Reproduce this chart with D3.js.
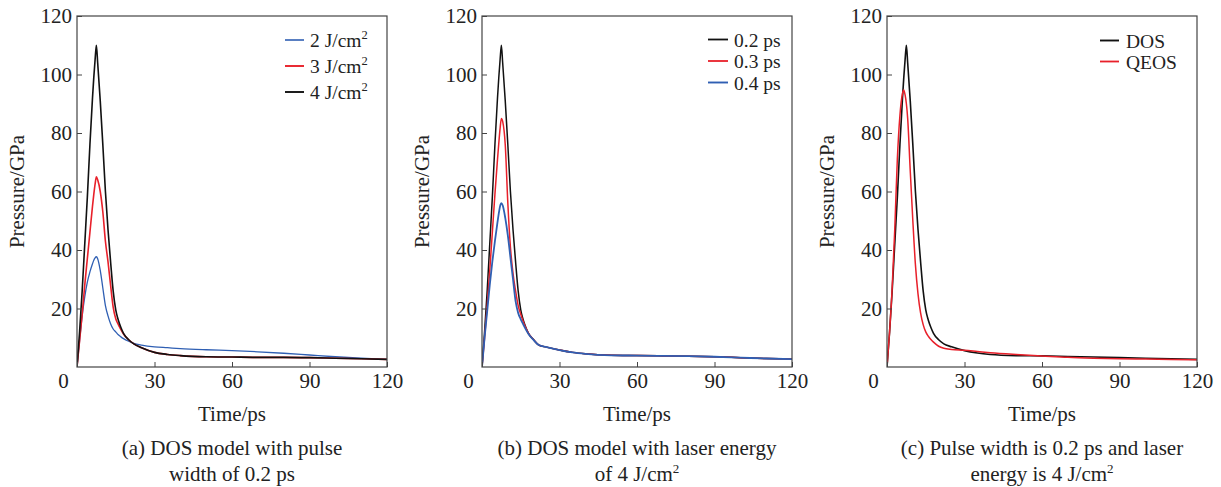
<!DOCTYPE html>
<html>
<head>
<meta charset="utf-8">
<script src="https://cdn.jsdelivr.net/npm/d3@7/dist/d3.min.js"></script>
<style>
  html, body { margin: 0; padding: 0; background: #fff; }
  svg text { font-family: "Liberation Serif", "Times New Roman", serif; fill: #222; }
</style>
</head>
<body>
<div id="chart"></div>
<script>
// ── Data ──
const time = [0, 1, 2, 3, 4, 5, 6, 6.5, 7, 7.5, 8, 9, 10, 11, 12, 13, 14, 15, 16, 17, 18,
  20, 22, 25, 30, 35, 40, 50, 60, 70, 80, 90, 100, 110, 120];

// (a) DOS model, pulse width 0.2 ps
const dosE2 = [0, 9, 17.5, 24, 29, 32.5, 35.3, 36.5, 37.3, 37.7, 37, 33, 27, 21, 17.5, 14.8, 13, 12, 11, 10.3, 9.7,
  8.8, 8.1, 7.5, 6.9, 6.6, 6.3, 5.9, 5.6, 5.2, 4.7, 4.1, 3.5, 3.0, 2.6];
const dosE3 = [0, 9, 18, 28, 37, 46, 55, 59, 62.5, 65, 64, 60, 53, 43, 36, 28, 20.5, 16.5, 14.5, 12.8, 11.3,
  9.3, 7.9, 6.6, 5.0, 4.3, 3.9, 3.5, 3.4, 3.3, 3.3, 3.2, 3.0, 2.8, 2.6];
const dosE4 = [0, 12, 26, 42, 58, 76, 92, 99, 105, 110, 104, 91, 76, 60, 47, 36, 26, 19.5, 16, 13.5, 11.5,
  9.3, 7.9, 6.6, 5.0, 4.3, 3.9, 3.5, 3.4, 3.3, 3.3, 3.2, 3.0, 2.8, 2.6];

// (b) DOS model, laser energy 4 J/cm2
const dosP02 = [0, 12, 26, 42, 58, 76, 92, 99, 105, 110, 104, 91, 76, 60, 47, 36, 26, 19.5, 16, 13.5, 11.5,
  9.3, 7.5, 6.8, 5.8, 5.0, 4.5, 4.0, 3.9, 3.8, 3.7, 3.5, 3.2, 2.9, 2.7];
const dosP03 = [0, 10, 21, 33, 46, 59, 71, 76.5, 81.5, 85, 84, 76, 56, 41, 32, 26, 21, 18, 15.5, 13.3, 11.5,
  9.3, 7.5, 6.8, 5.8, 5.0, 4.5, 4.0, 3.9, 3.8, 3.7, 3.5, 3.2, 2.9, 2.7];
const dosP04 = [0, 10, 19, 28, 36, 43, 49.5, 52.5, 55, 56, 55.3, 51, 45, 37.5, 30, 22.5, 18.5, 16.3, 14.5, 12.8, 11.3,
  9.2, 7.5, 6.8, 5.8, 5.0, 4.5, 4.0, 3.9, 3.8, 3.7, 3.5, 3.2, 2.9, 2.7];

// (c) DOS vs QEOS, 0.2 ps and 4 J/cm2
const cmpDos = [0, 12, 26, 42, 58, 76, 92, 99, 105, 110, 104, 91, 76, 60, 47, 36, 26, 19.5, 16, 13.5, 11.5,
  9.3, 7.9, 6.9, 5.6, 4.8, 4.3, 3.9, 3.8, 3.6, 3.4, 3.2, 3.0, 2.8, 2.6];
const cmpQeos = [0, 12, 27, 47, 71, 86, 93.5, 94.7, 93, 90, 85, 67, 50, 35, 25, 18.5, 14.5, 12, 10.5, 9.4, 8.5,
  7.1, 6.4, 6.0, 5.7, 5.3, 4.9, 4.3, 3.8, 3.3, 3.0, 2.8, 2.7, 2.6, 2.5];

const xTicks = [0, 30, 60, 90, 120];
const yTicks = [20, 40, 60, 80, 100, 120];

const C = { black: "#111111", red: "#e8202a", blue: "#2f5fb3" };

const panels = [
  {
    left: 77,
    legend: { x: 208, y: 24, dy: 26, len: 19, gap: 6 },
    caption: ["(a) DOS model with pulse", "width of 0.2 ps"],
    capSup: false,
    series: [
      { label: "2 J/cm", sup: "2", values: dosE2, color: C.blue, width: 1.3 },
      { label: "3 J/cm", sup: "2", values: dosE3, color: C.red, width: 1.6 },
      { label: "4 J/cm", sup: "2", values: dosE4, color: C.black, width: 1.6 }
    ]
  },
  {
    left: 482,
    legend: { x: 226, y: 23.5, dy: 21.5, len: 20, gap: 6 },
    caption: ["(b) DOS model with laser energy", "of 4 J/cm"],
    capSup: true,
    series: [
      { label: "0.2 ps", values: dosP02, color: C.black, width: 1.5 },
      { label: "0.3 ps", values: dosP03, color: C.red, width: 1.5 },
      { label: "0.4 ps", values: dosP04, color: C.blue, width: 1.8 }
    ]
  },
  {
    left: 887,
    legend: { x: 213, y: 24.5, dy: 21, len: 19, gap: 7 },
    caption: ["(c) Pulse width is 0.2 ps and laser", "energy is 4 J/cm"],
    capSup: true,
    series: [
      { label: "DOS", values: cmpDos, color: C.black, width: 1.6 },
      { label: "QEOS", values: cmpQeos, color: C.red, width: 1.5 }
    ]
  }
];

// ── Layout ──
const W = 1221, H = 487;
const plotTop = 16, w = 310, h = 351;
const FS = 21;
const LFS = 19.5; // legend font

const svg = d3.select("#chart").append("svg")
  .attr("width", W).attr("height", H)
  .attr("viewBox", `0 0 ${W} ${H}`);

const x = d3.scaleLinear().domain([0, 120]).range([0, w]);
const y = d3.scaleLinear().domain([0, 120]).range([h, 0]);

const line = (vals) => d3.line()
  .x((d, i) => x(time[i]))
  .y((d) => y(d))
  .curve(d3.curveMonotoneX)(vals);

panels.forEach((p) => {
  const g = svg.append("g").attr("transform", `translate(${p.left},${plotTop})`);

  // ── Curves (legend order; the last one sits on top) ──
  const clip = "clip" + p.left;
  g.append("clipPath").attr("id", clip)
    .append("rect").attr("width", w).attr("height", h);

  g.append("g").attr("clip-path", `url(#${clip})`)
    .selectAll("path")
    .data(p.series)
    .join("path")
    .attr("d", (s) => line(s.values))
    .attr("fill", "none")
    .attr("stroke", (s) => s.color)
    .attr("stroke-width", (s) => s.width)
    .attr("stroke-linejoin", "round");

  // ── Axes ──
  const xAxis = g.append("g")
    .attr("transform", `translate(0,${h})`)
    .call(d3.axisBottom(x).tickValues(xTicks).tickSizeInner(-5).tickSizeOuter(0).tickPadding(6));
  xAxis.select(".domain").remove();
  xAxis.selectAll("text").style("font-size", FS + "px").attr("fill", "#222")
    .attr("dx", (d) => (d === 0 ? -14 : 0));
  xAxis.selectAll("line").attr("stroke", "#444");

  const yAxis = g.append("g")
    .call(d3.axisLeft(y).tickValues(yTicks).tickSizeInner(-5).tickSizeOuter(0).tickPadding(5));
  yAxis.select(".domain").remove();
  yAxis.selectAll("text").style("font-size", FS + "px").attr("fill", "#222");
  yAxis.selectAll("line").attr("stroke", "#444");

  // frame
  g.append("rect")
    .attr("width", w).attr("height", h)
    .attr("fill", "none").attr("stroke", "#444").attr("stroke-width", 1.2);

  // ── Axis titles ──
  g.append("text")
    .attr("transform", `translate(${-53},${h / 2}) rotate(-90)`)
    .attr("text-anchor", "middle")
    .style("font-size", FS + "px")
    .text("Pressure/GPa");

  g.append("text")
    .attr("x", w / 2).attr("y", 421 - plotTop)
    .attr("text-anchor", "middle")
    .style("font-size", FS + "px")
    .text("Time/ps");

  // ── Caption ──
  p.caption.forEach((c, i) => {
    const t = g.append("text")
      .attr("x", w / 2).attr("y", 455 - plotTop + i * 26)
      .attr("text-anchor", "middle")
      .style("font-size", FS + "px")
      .text(c);
    if (i === 1 && p.capSup) {
      t.append("tspan").attr("dy", -8).style("font-size", "13px").text("2");
    }
  });

  // ── Legend ──
  const L = p.legend;
  const items = g.append("g").selectAll("g")
    .data(p.series)
    .join("g")
    .attr("transform", (d, i) => `translate(${L.x},${L.y + i * L.dy})`);

  items.append("line")
    .attr("x1", 0).attr("x2", L.len)
    .attr("stroke", (d) => d.color)
    .attr("stroke-width", (d) => Math.min(d.width + 0.3, 1.9));

  const lt = items.append("text")
    .attr("x", L.len + L.gap).attr("y", 7)
    .style("font-size", LFS + "px")
    .text((d) => d.label);
  lt.filter((d) => d.sup)
    .append("tspan").attr("dy", -8).style("font-size", "12.5px").text((d) => d.sup);
});
</script>
</body>
</html>
